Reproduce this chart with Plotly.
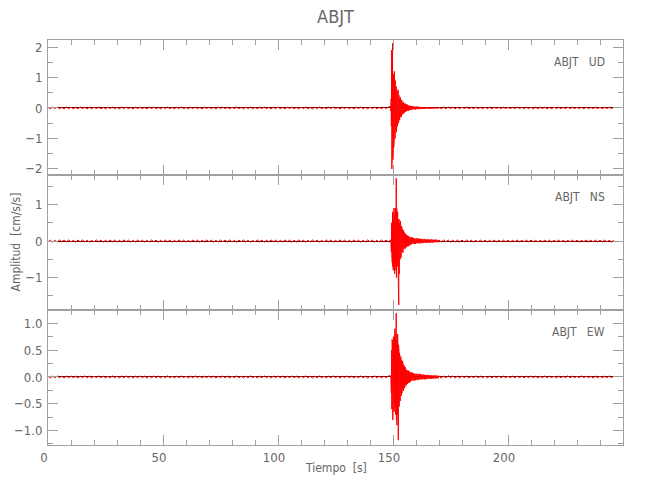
import numpy as np
import plotly.graph_objects as go
from plotly.subplots import make_subplots

station = "ABJT"
components = ["UD", "NS", "EW"]
x_ticks = [0, 50, 100, 150, 200]

# sampling of the typed segments: (start [s], step [s])
seg_noise = (0.0, 1.0)
seg_burst = (149.0, 0.1)
seg_coda = (158.0, 0.25)
seg_tail = (170.0, 1.0)

# ---------------- UD ----------------
ud_noise = [0.02,-0.03,0.025,-0.02,0.03,-0.025,0.02,-0.03,0.03,-0.02,
            0.025,-0.03,0.02,-0.025,0.03,-0.02,0.025,-0.03,0.02,-0.025,
            0.03,-0.02,0.025,-0.03,0.02,-0.03,0.025,-0.02,0.03,-0.025,
            0.02,-0.03,0.025,-0.02,0.03,-0.025,0.02,-0.03,0.025,-0.02,
            0.03,-0.025,0.02,-0.03,0.025,-0.02,0.03,-0.025,0.02,-0.03,
            0.025,-0.02,0.03,-0.025,0.02,-0.03,0.025,-0.02,0.03,-0.025,
            0.02,-0.03,0.025,-0.02,0.03,-0.025,0.02,-0.03,0.025,-0.02,
            0.03,-0.025,0.02,-0.03,0.025,-0.02,0.03,-0.025,0.02,-0.03,
            0.025,-0.02,0.03,-0.025,0.02,-0.03,0.025,-0.02,0.03,-0.025,
            0.02,-0.03,0.025,-0.02,0.03,-0.025,0.02,-0.03,0.025,-0.02,
            0.03,-0.025,0.02,-0.03,0.025,-0.02,0.03,-0.025,0.02,-0.03,
            0.025,-0.02,0.03,-0.025,0.02,-0.03,0.025,-0.02,0.03,-0.025,
            0.02,-0.03,0.025,-0.02,0.03,-0.025,0.02,-0.03,0.025,-0.02,
            0.03,-0.025,0.02,-0.03,0.025,-0.02,0.03,-0.025,0.02,-0.03,
            0.025,-0.02,0.03,-0.025,0.02,-0.03,0.025,-0.02,0.03]
ud_burst = [0.05,-0.1,0.3,-0.6,1.9,-2.0,1.5,-1.2,2.12,-1.7,
            1.3,-1.5,1.1,-1.3,0.9,-1.1,1.2,-0.9,0.8,-1.0,
            0.9,-0.7,0.8,-0.6,0.7,-0.8,0.6,-0.5,0.55,-0.6,
            0.5,-0.45,0.6,-0.5,0.4,-0.45,0.42,-0.38,0.35,-0.4,
            0.32,-0.3,0.35,-0.28,0.27,-0.3,0.25,-0.22,0.26,-0.2,
            0.22,-0.2,0.18,-0.21,0.17,-0.16,0.19,-0.15,0.14,-0.16,
            0.13,-0.14,0.15,-0.12,0.11,-0.13,0.12,-0.1,0.11,-0.1,
            0.1,-0.09,0.11,-0.08,0.09,-0.1,0.08,-0.09,0.07,-0.08,
            0.08,-0.07,0.06,-0.07,0.07,-0.06,0.05,-0.06,0.06,-0.05]
ud_coda = [0.05,-0.05,0.06,-0.04,0.05,-0.05,0.04,-0.05,
           0.04,-0.04,0.05,-0.03,0.04,-0.04,0.03,-0.04,
           0.035,-0.03,0.03,-0.035,0.03,-0.025,0.03,-0.03,
           0.025,-0.03,0.025,-0.02,0.03,-0.025,0.02,-0.025,
           0.02,-0.025,0.02,-0.02,0.025,-0.02,0.02,-0.02,
           0.02,-0.015,0.02,-0.02,0.015,-0.02,0.02,-0.015]
ud_tail = [0.025,-0.03,0.025,-0.025,0.03,-0.02,0.025,-0.025,0.02,-0.025,
           0.025,-0.02,0.025,-0.025,0.02,-0.025,0.025,-0.02,0.02,-0.025,
           0.025,-0.02,0.02,-0.025,0.025,-0.02,0.02,-0.02,0.025,-0.02,
           0.02,-0.025,0.02,-0.02,0.025,-0.02,0.02,-0.02,0.025,-0.02,
           0.025,-0.03,0.025,-0.025,0.03,-0.02,0.025,-0.025,0.02,-0.025,
           0.025,-0.02,0.025,-0.025,0.02,-0.025,0.025,-0.02,0.02,-0.025,
           0.025,-0.02,0.02,-0.025,0.025,-0.02,0.02,-0.02,0.025,-0.02,
           0.02,-0.025,0.02,-0.02,0.025,-0.02,0.02]

# ---------------- NS ----------------
ns_noise = [-0.02,0.025,-0.03,0.02,-0.025,0.03,-0.02,0.025,-0.02,0.03,
            -0.025,0.02,-0.03,0.025,-0.02,0.03,-0.025,0.02,-0.03,0.02,
            -0.025,0.03,-0.02,0.025,-0.03,0.02,-0.025,0.03,-0.02,0.025,
            -0.03,0.02,-0.025,0.03,-0.02,0.025,-0.03,0.02,-0.025,0.03,
            -0.02,0.025,-0.03,0.02,-0.025,0.03,-0.02,0.025,-0.03,0.02,
            -0.025,0.03,-0.02,0.025,-0.03,0.02,-0.025,0.03,-0.02,0.025,
            -0.03,0.02,-0.025,0.03,-0.02,0.025,-0.03,0.02,-0.025,0.03,
            -0.02,0.025,-0.03,0.02,-0.025,0.03,-0.02,0.025,-0.02,0.03,
            -0.025,0.02,-0.03,0.025,-0.02,0.03,-0.025,0.02,-0.03,0.02,
            -0.025,0.03,-0.02,0.025,-0.03,0.02,-0.025,0.03,-0.02,0.025,
            -0.03,0.02,-0.025,0.03,-0.02,0.025,-0.03,0.02,-0.025,0.03,
            -0.02,0.025,-0.03,0.02,-0.025,0.03,-0.02,0.025,-0.03,0.02,
            -0.025,0.03,-0.02,0.025,-0.03,0.02,-0.025,0.03,-0.02,0.025,
            -0.03,0.02,-0.025,0.03,-0.02,0.025,-0.03,0.02,-0.025,0.03,
            -0.02,0.025,-0.03,0.02,-0.025,0.03,-0.02,0.025,-0.02]
ns_burst = [0.03,-0.05,0.2,-0.3,0.5,-0.4,0.7,-0.6,0.8,-0.7,
            0.75,-0.8,0.6,-0.7,0.9,-0.6,0.7,-0.9,0.8,-0.75,
            0.9,-0.6,1.2,-0.8,1.72,-1.0,0.9,-0.8,0.7,-0.6,
            0.8,-0.7,0.6,-1.1,0.5,-1.75,0.6,-0.9,0.5,-0.6,
            0.45,-0.5,0.55,-0.4,0.42,-0.45,0.38,-0.35,0.4,-0.3,
            0.33,-0.3,0.28,-0.32,0.26,-0.25,0.3,-0.22,0.24,-0.2,
            0.22,-0.2,0.18,-0.21,0.2,-0.17,0.16,-0.18,0.17,-0.15,
            0.16,-0.14,0.15,-0.13,0.14,-0.15,0.12,-0.13,0.13,-0.11,
            0.12,-0.11,0.1,-0.12,0.11,-0.1,0.09,-0.1,0.1,-0.09]
ns_coda = [0.09,-0.08,0.1,-0.07,0.08,-0.08,0.07,-0.08,
           0.07,-0.06,0.08,-0.06,0.07,-0.06,0.06,-0.07,
           0.06,-0.05,0.06,-0.06,0.05,-0.05,0.06,-0.04,
           0.05,-0.05,0.04,-0.05,0.05,-0.04,0.04,-0.05,
           0.04,-0.04,0.05,-0.035,0.04,-0.04,0.035,-0.04,
           0.035,-0.03,0.04,-0.03,0.035,-0.035,0.03,-0.03]
ns_tail = [0.03,-0.03,0.035,-0.025,0.03,-0.03,0.025,-0.03,0.03,-0.025,
           0.025,-0.025,0.03,-0.02,0.025,-0.025,0.02,-0.025,0.025,-0.02,
           0.02,-0.025,0.02,-0.02,0.025,-0.02,0.02,-0.02,0.025,-0.02,
           0.02,-0.025,0.02,-0.02,0.025,-0.02,0.02,-0.02,0.025,-0.02,
           0.025,-0.02,0.02,-0.025,0.02,-0.02,0.025,-0.02,0.02,-0.025,
           0.02,-0.02,0.025,-0.02,0.02,-0.025,0.02,-0.02,0.025,-0.02,
           0.02,-0.025,0.02,-0.02,0.025,-0.02,0.02,-0.02,0.025,-0.02,
           0.02,-0.02,0.025,-0.02,0.02,-0.025,0.02]

# ---------------- EW ----------------
ew_noise = [0.015,-0.02,0.015,-0.015,0.02,-0.015,0.015,-0.02,0.015,-0.015,
            0.02,-0.015,0.015,-0.02,0.015,-0.015,0.02,-0.015,0.015,-0.02,
            0.015,-0.015,0.02,-0.015,0.015,-0.02,0.015,-0.015,0.02,-0.015,
            0.015,-0.02,0.015,-0.015,0.02,-0.015,0.015,-0.02,0.015,-0.015,
            0.02,-0.015,0.015,-0.02,0.015,-0.015,0.02,-0.015,0.015,-0.02,
            0.015,-0.015,0.02,-0.015,0.015,-0.02,0.015,-0.015,0.02,-0.015,
            0.015,-0.02,0.015,-0.015,0.02,-0.015,0.015,-0.02,0.015,-0.015,
            0.02,-0.015,0.015,-0.02,0.015,-0.015,0.02,-0.015,0.015,-0.02,
            0.015,-0.015,0.02,-0.015,0.015,-0.02,0.015,-0.015,0.02,-0.015,
            0.015,-0.02,0.015,-0.015,0.02,-0.015,0.015,-0.02,0.015,-0.015,
            0.02,-0.015,0.015,-0.02,0.015,-0.015,0.02,-0.015,0.015,-0.02,
            0.015,-0.015,0.02,-0.015,0.015,-0.02,0.015,-0.015,0.02,-0.015,
            0.015,-0.02,0.015,-0.015,0.02,-0.015,0.015,-0.02,0.015,-0.015,
            0.02,-0.015,0.015,-0.02,0.015,-0.015,0.02,-0.015,0.015,-0.02,
            0.015,-0.015,0.02,-0.015,0.015,-0.02,0.015,-0.015,0.02]
ew_burst = [0.02,-0.05,0.15,-0.3,0.5,-0.6,0.7,-0.55,0.65,-0.8,
            0.6,-0.7,0.75,-0.6,0.55,-0.65,0.7,-0.5,0.9,-0.6,
            0.8,-0.7,1.0,-0.6,1.19,-0.8,0.7,-0.9,0.6,-0.7,
            0.8,-0.6,0.5,-1.18,0.6,-0.8,0.5,-0.55,0.45,-0.5,
            0.4,-0.45,0.35,-0.4,0.38,-0.3,0.32,-0.35,0.28,-0.3,
            0.27,-0.25,0.3,-0.22,0.24,-0.26,0.2,-0.22,0.21,-0.19,
            0.18,-0.2,0.17,-0.16,0.18,-0.15,0.14,-0.16,0.13,-0.14,
            0.13,-0.12,0.12,-0.13,0.11,-0.1,0.12,-0.1,0.1,-0.11,
            0.09,-0.1,0.1,-0.08,0.09,-0.09,0.08,-0.08,0.09,-0.07]
ew_coda = [0.07,-0.07,0.08,-0.06,0.07,-0.07,0.06,-0.06,
           0.06,-0.05,0.06,-0.06,0.05,-0.05,0.06,-0.045,
           0.05,-0.05,0.045,-0.04,0.05,-0.04,0.04,-0.045,
           0.04,-0.04,0.035,-0.04,0.04,-0.035,0.035,-0.03,
           0.03,-0.035,0.035,-0.03,0.03,-0.03,0.025,-0.03,
           0.03,-0.025,0.025,-0.03,0.025,-0.02,0.025,-0.025]
ew_tail = [0.02,-0.025,0.02,-0.02,0.025,-0.015,0.02,-0.02,0.015,-0.02,
           0.02,-0.015,0.015,-0.02,0.015,-0.015,0.02,-0.015,0.015,-0.015,
           0.015,-0.015,0.015,-0.015,0.015,-0.015,0.015,-0.015,0.015,-0.015,
           0.015,-0.015,0.015,-0.015,0.015,-0.015,0.015,-0.015,0.015,-0.015,
           0.02,-0.015,0.015,-0.02,0.015,-0.015,0.02,-0.015,0.015,-0.015,
           0.015,-0.02,0.015,-0.015,0.015,-0.015,0.02,-0.015,0.015,-0.015,
           0.015,-0.015,0.02,-0.015,0.015,-0.015,0.015,-0.02,0.015,-0.015,
           0.015,-0.015,0.015,-0.015,0.02,-0.015,0.015]

y_ranges = [[-2.2, 2.23], [-1.89, 1.81], [-1.27, 1.25]]
y_dticks = [1, 1, 0.5]
y_minor = [0.5, 0.5, 0.25]
y_formats = ["d", "d", ".1f"]


def build(segments):
    ts, vs = [], []
    for (start, step), vals in segments:
        ts.append(start + step * np.arange(len(vals)))
        vs.append(np.array(vals, dtype=float))
    return np.concatenate(ts), np.concatenate(vs)


traces = [
    build([(seg_noise, ud_noise), (seg_burst, ud_burst), (seg_coda, ud_coda), (seg_tail, ud_tail)]),
    build([(seg_noise, ns_noise), (seg_burst, ns_burst), (seg_coda, ns_coda), (seg_tail, ns_tail)]),
    build([(seg_noise, ew_noise), (seg_burst, ew_burst), (seg_coda, ew_coda), (seg_tail, ew_tail)]),
]

FONT = "Liberation Sans Narrow, DejaVu Sans Condensed, Arial Narrow, sans-serif"
TXT = "#666666"
AX = "#a0a0a0"

fig = make_subplots(rows=3, cols=1, shared_xaxes=True, vertical_spacing=0)

for i, (t, v) in enumerate(traces):
    fig.add_trace(go.Scatter(x=t, y=v, mode="lines",
                             line=dict(color="#ff0000", width=1),
                             showlegend=False, hoverinfo="skip"),
                  row=i + 1, col=1)
    fig.update_yaxes(range=y_ranges[i], dtick=y_dticks[i], tick0=0,
                     tickformat=y_formats[i],
                     minor=dict(dtick=y_minor[i], tick0=0, ticklen=5, ticks="inside",
                                tickcolor=AX),
                     row=i + 1, col=1)
    fig.add_annotation(text=f"{station}&nbsp;&nbsp;&nbsp;{components[i]}",
                       xref="x domain", yref="y domain" if i == 0 else f"y{i+1} domain",
                       x=1, y=1, xanchor="right", yanchor="middle",
                       xshift=-16, yshift=-22, showarrow=False,
                       font=dict(family=FONT, size=12, color=TXT))

fig.update_yaxes(showgrid=False, ticks="inside", ticklen=10, tickcolor=AX,
                 showline=True, linecolor=AX, linewidth=1, mirror="allticks",
                 zeroline=True, zerolinecolor="#3a0000", zerolinewidth=0.8,
                 tickfont=dict(family=FONT, size=13, color=TXT), ticklabelstandoff=2)
fig.update_xaxes(range=[0, 250], showgrid=False, ticks="inside", ticklen=10,
                 tickcolor=AX, tickvals=x_ticks,
                 minor=dict(dtick=10, tick0=0, ticklen=5, ticks="inside", tickcolor=AX),
                 showline=True, linecolor=AX, linewidth=1, mirror="allticks",
                 zeroline=False,
                 tickfont=dict(family=FONT, size=13, color=TXT))
fig.update_xaxes(ticklabelshift=-4, row=3, col=1)

fig.add_annotation(text="Amplitud&nbsp;&nbsp;[cm/s/s]", xref="paper", yref="paper",
                   x=0, y=0.5, xshift=-33, textangle=-90, showarrow=False,
                   xanchor="center", yanchor="middle",
                   font=dict(family=FONT, size=12, color=TXT))
fig.add_annotation(text="Tiempo&nbsp;&nbsp;[s]", xref="paper", yref="paper",
                   x=0.5, y=0, yshift=-23, showarrow=False,
                   xanchor="center", yanchor="middle",
                   font=dict(family=FONT, size=12, color=TXT))

fig.update_layout(
    width=650, height=500,
    margin=dict(l=48, r=27, t=40, b=55),
    paper_bgcolor="white", plot_bgcolor="white",
    title=dict(text=station, x=0.5, xref="paper", y=1 - 17 / 500, yref="container",
               xanchor="center", yanchor="middle",
               font=dict(family=FONT, size=18, color=TXT)),
)

fig.write_html("out.html", config={"displayModeBar": False},
               post_script="document.body.style.margin='0';")
